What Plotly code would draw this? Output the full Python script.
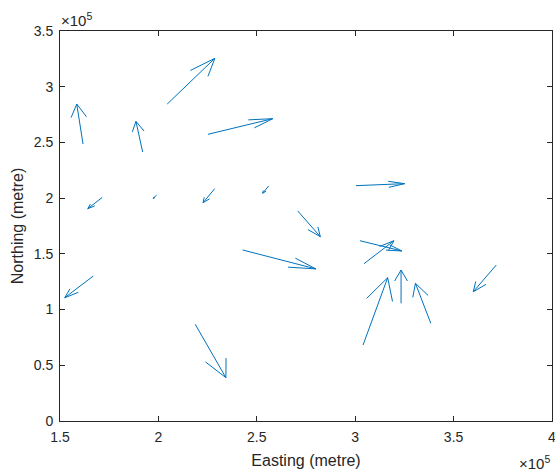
import numpy as np
import plotly.graph_objects as go
import plotly.figure_factory as ff

# Arrow tails (metres)
easting = [161700, 192000, 204500, 225200, 171500, 199100, 228600, 256000, 166900, 218700,
           242800, 300400, 270800, 302400, 304500, 304000, 323300, 338400, 371700]
northing = [248600, 241400, 284500, 257300, 200700, 202800, 208500, 210900, 130100, 86800,
            153500, 211200, 188500, 161800, 141200, 68200, 105600, 87700, 140000]
# Arrow components (metres)
u = [-3200, -3400, 24200, 32900, -7400, -1700, -5900, -3000, -14500, 15600,
     37200, 24700, 11500, 21300, 15200, 12500, 0, -7800, -11700]
v = [35900, 27500, 41000, 14000, -10200, -3000, -12600, -6500, -19500, -47900,
     -17000, 1800, -23100, -9200, 20600, 60400, 29900, 35900, -24000]

xtick_vals = [150000, 200000, 250000, 300000, 350000, 400000]
xtick_text = ["1.5", "2", "2.5", "3", "3.5", "4"]
ytick_vals = [0, 50000, 100000, 150000, 200000, 250000, 300000, 350000]
ytick_text = ["0", "0.5", "1", "1.5", "2", "2.5", "3", "3.5"]

alpha, beta = 0.33, 0.33
qfig = ff.create_quiver(easting, northing, u, v, scale=1,
                        arrow_scale=alpha * np.sqrt(1 + beta ** 2),
                        angle=np.arctan(beta),
                        line=dict(color="#0072BD", width=1))

fig = go.Figure()
for tr in qfig.data:
    tr.showlegend = False
    tr.hoverinfo = "skip"
    fig.add_trace(tr)

axcol = "#262626"
common = dict(showgrid=False, zeroline=False, showline=True, linecolor=axcol, linewidth=1,
              mirror="ticks", ticks="inside", ticklen=5, tickcolor=axcol, automargin=False,
              ticklabeloverflow="allow",
              tickfont=dict(family="Liberation Sans, Arial", size=14, color=axcol))

fig.update_layout(
    width=555, height=472,
    margin=dict(l=60, r=3, t=31, b=51),
    paper_bgcolor="white", plot_bgcolor="white",
    font=dict(family="Liberation Sans, Arial", color=axcol),
    xaxis=dict(range=[150000, 400000], tickvals=xtick_vals, ticktext=xtick_text,
               ticklabelstandoff=3,
               title=dict(text="Easting (metre)", font=dict(size=16, color=axcol), standoff=11),
               **common),
    yaxis=dict(range=[0, 350000], tickvals=ytick_vals, ticktext=ytick_text,
               ticklabelstandoff=3,
               title=dict(text="Northing (metre)", font=dict(size=16, color=axcol), standoff=6),
               **common),
    annotations=[
        dict(text="×10<sup>5</sup>", xref="paper", yref="paper", x=0, y=1,
             xanchor="left", yanchor="bottom", showarrow=False, xshift=-1, yshift=0,
             font=dict(size=15, color=axcol)),
        dict(text="×10<sup>5</sup>", xref="paper", yref="paper", x=1, y=0,
             xanchor="right", yanchor="top", showarrow=False, yshift=-30,
             font=dict(size=15, color=axcol)),
    ],
)

fig.write_html("out.html", config={"displayModeBar": False},
               post_script="document.body.style.margin='0';")
